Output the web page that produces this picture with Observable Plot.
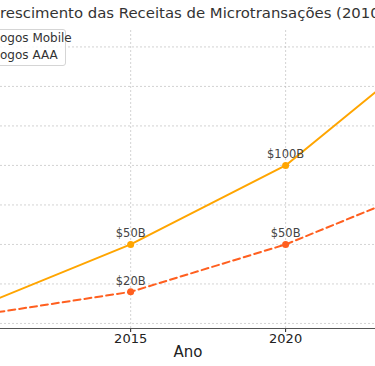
<!DOCTYPE html>
<html><head><meta charset="utf-8">
<script src="https://cdn.jsdelivr.net/npm/d3@7"></script>
<script src="https://cdn.jsdelivr.net/npm/@observablehq/plot@0.6"></script>
<style>
html,body{margin:0;padding:0;background:#fff;overflow:hidden;}
#wrap{position:relative;width:375px;height:366px;overflow:hidden;font-family:"DejaVu Sans",sans-serif;}
#title{position:absolute;top:4px;left:-11px;white-space:nowrap;font-size:15px;color:#333;}
#legend{position:absolute;top:29px;left:-70px;width:134px;height:35px;border:1px solid #d5d5d5;border-radius:3px;background:rgba(255,255,255,0.85);color:#333;}
.leg{position:absolute;white-space:nowrap;font-size:12px;color:#333;font-family:"DejaVu Sans",sans-serif;}
#chart{position:absolute;top:0;left:0;}
</style></head>
<body><div id="wrap">
<div id="chart"></div>
<div id="title">Crescimento das Receitas de Microtransações (2010-2025)</div>
<div id="legend"></div>
<div class="leg" id="l1">Jogos Mobile</div>
<div class="leg" id="l2">Jogos AAA</div>
</div>
<script>
const years = [2010, 2015, 2020, 2025];
const mobile = [10, 50, 100, 180];
const aaa = [5, 20, 50, 90];
const seriesNames = ["Jogos Mobile", "Jogos AAA"];
const yTicks = [0, 25, 50, 75, 100, 125, 150, 175];
const xTicks = [2010, 2015, 2020, 2025];
const xTickLabels = [2015, 2020];

const data = [];
years.forEach((y, i) => {
  data.push({year: y, value: mobile[i], series: seriesNames[0]});
  data.push({year: y, value: aaa[i], series: seriesNames[1]});
});
const mob = data.filter(d => d.series === seriesNames[0]);
const aa = data.filter(d => d.series === seriesNames[1]);
const labelled = data.filter(d => d.year === 2015 || d.year === 2020);

const chart = Plot.plot({
  width: 375, height: 366,
  marginLeft: 0, marginRight: 0, marginTop: 30, marginBottom: 38,
  style: {fontFamily: "DejaVu Sans, sans-serif", background: "transparent", fontSize: "13px"},
  x: {domain: [2010.8, 2022.9]},
  y: {domain: [-3.2, 185.4], axis: null},
  marks: [
    Plot.gridY(yTicks, {stroke: "#b0b0b0", strokeOpacity: 0.7, strokeDasharray: "2,2", strokeWidth: 0.8}),
    Plot.gridX(xTicks, {stroke: "#b0b0b0", strokeOpacity: 0.7, strokeDasharray: "2,2", strokeWidth: 0.8}),
    Plot.line(mob, {x: "year", y: "value", stroke: "#FFA500", strokeWidth: 2, clip: true}),
    Plot.line(aa, {x: "year", y: "value", stroke: "#FF5F1F", strokeWidth: 2, strokeDasharray: "7,4", clip: true}),
    Plot.dot(mob, {x: "year", y: "value", fill: "#FFA500", r: 3.5, clip: true}),
    Plot.dot(aa, {x: "year", y: "value", fill: "#FF5F1F", r: 3.5, clip: true}),
    Plot.text(labelled, {x: "year", y: "value", text: d => "$" + d.value + "B", dy: -11, fontSize: 11.5, fill: "#444", clip: true}),
    Plot.axisX(xTickLabels, {tickFormat: d => String(d), fontSize: 13, tickSize: 4, tickPadding: 1, color: "#222", label: null}),
    Plot.text(["Ano"], {frameAnchor: "bottom", dy: 28, fontSize: 15, fill: "#222"}),
    Plot.ruleY([-3.2], {stroke: "#555", strokeWidth: 1.2})
  ]
});
document.getElementById("chart").appendChild(chart);

// fit the cropped title and legend text to the reference's visible extents
const ctx = document.createElement("canvas").getContext("2d");
function w(txt, size) { ctx.font = size + "px 'DejaVu Sans'"; return ctx.measureText(txt).width; }
const tVisible = "rescimento das Receitas de Microtransações (2010";
const tSize = 15 * 380 / w(tVisible, 15);
const title = document.getElementById("title");
title.style.fontSize = tSize + "px";
title.style.left = (-w("C", tSize)) + "px";
const lSize = 12;
const l1 = document.getElementById("l1"), l2 = document.getElementById("l2");
const jw = w("J", lSize);
l1.style.left = (-jw) + "px"; l1.style.top = "31px";
l2.style.left = (-jw) + "px"; l2.style.top = "48px";
</script>
</body></html>
